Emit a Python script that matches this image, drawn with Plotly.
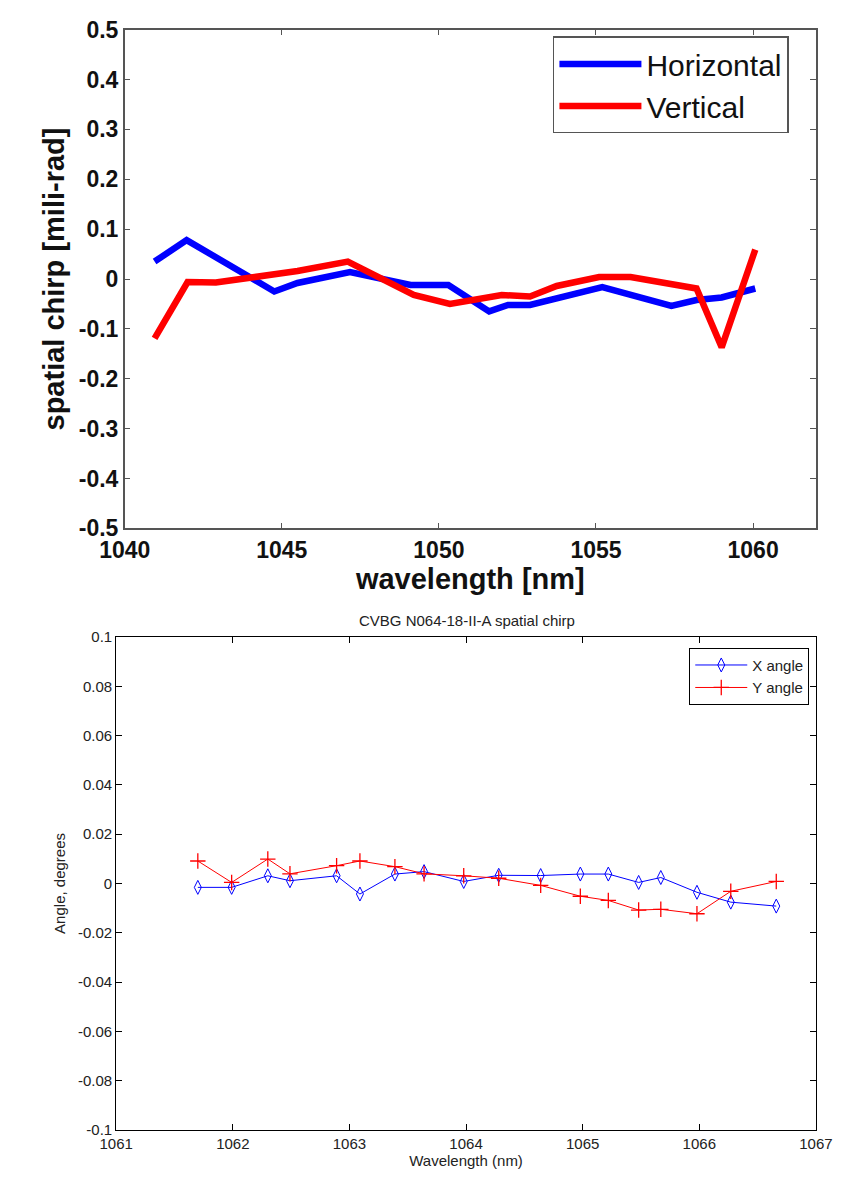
import plotly.graph_objects as go

# ---------------- data: top chart ----------------
h_wavelength = [1040.95, 1041.97, 1044.76, 1045.5, 1047.17, 1049.1, 1050.3, 1051.6,
                1052.2, 1052.9, 1055.2, 1057.4, 1058.2, 1059.0, 1060.07]
h_chirp = [0.035, 0.078, -0.025, -0.008, 0.014, -0.012, -0.012, -0.065,
           -0.052, -0.052, -0.016, -0.054, -0.042, -0.037, -0.019]

v_wavelength = [1040.95, 1042.0, 1042.9, 1045.5, 1047.1, 1049.2, 1050.35, 1052.0,
                1052.9, 1053.75, 1055.1, 1056.1, 1058.2, 1059.0, 1060.07]
v_chirp = [-0.119, -0.006, -0.007, 0.016, 0.035, -0.032, -0.05, -0.032,
           -0.035, -0.014, 0.004, 0.004, -0.019, -0.137, 0.059]

top_xticks = [1040, 1045, 1050, 1055, 1060]
top_yticks = [0.5, 0.4, 0.3, 0.2, 0.1, 0, -0.1, -0.2, -0.3, -0.4, -0.5]
top_yticktext = ["0.5", "0.4", "0.3", "0.2", "0.1", "0", "-0.1", "-0.2", "-0.3", "-0.4", "-0.5"]

# ---------------- data: bottom chart ----------------
b_wavelength = [1061.70, 1061.99, 1062.30, 1062.49, 1062.89, 1063.09, 1063.39, 1063.64, 1063.98,
                1064.28, 1064.64, 1064.98, 1065.22, 1065.48, 1065.67, 1065.98, 1066.27, 1066.66]
x_angle = [-0.0016, -0.0016, 0.0031, 0.0011, 0.0031, -0.0043, 0.0038, 0.0048, 0.0008,
           0.0033, 0.0032, 0.0038, 0.0038, 0.0004, 0.0024, -0.0036, -0.0076, -0.0092]
y_angle = [0.0091, 0.0004, 0.0099, 0.0039, 0.0072, 0.0091, 0.0068, 0.0039, 0.0031,
           0.0021, -0.0008, -0.0052, -0.0069, -0.0108, -0.0105, -0.0123, -0.0032, 0.0008]

bot_xticks = [1061, 1062, 1063, 1064, 1065, 1066, 1067]
bot_yticks = [0.1, 0.08, 0.06, 0.04, 0.02, 0, -0.02, -0.04, -0.06, -0.08, -0.1]
bot_yticktext = ["0.1", "0.08", "0.06", "0.04", "0.02", "0", "-0.02", "-0.04", "-0.06", "-0.08", "-0.1"]

W, H = 850, 1182
FONT = "Arial, Liberation Sans, sans-serif"

def px_x(a, b):
    return [a / W, b / W]

def px_y(top, bottom):
    return [1 - bottom / H, 1 - top / H]

fig = go.Figure()

fig.add_trace(go.Scatter(x=h_wavelength, y=h_chirp, mode="lines", name="Horizontal",
                         line=dict(color="#0000FF", width=6.5), xaxis="x", yaxis="y",
                         legend="legend"))
fig.add_trace(go.Scatter(x=v_wavelength, y=v_chirp, mode="lines", name="Vertical",
                         line=dict(color="#FF0000", width=6.5), xaxis="x", yaxis="y",
                         legend="legend"))

fig.add_trace(go.Scatter(x=b_wavelength, y=x_angle, mode="lines+markers", name="X angle",
                         line=dict(color="#0000FF", width=1),
                         marker=dict(symbol="diamond-tall-open", size=10, color="#0000FF",
                                     line=dict(width=1, color="#0000FF")),
                         xaxis="x2", yaxis="y2", legend="legend2"))
fig.add_trace(go.Scatter(x=b_wavelength, y=y_angle, mode="lines+markers", name="Y angle",
                         line=dict(color="#FF0000", width=1),
                         marker=dict(symbol="cross-thin-open", size=11, color="#FF0000",
                                     line=dict(width=1.3, color="#FF0000")),
                         xaxis="x2", yaxis="y2", legend="legend2"))

top_axis_common = dict(showline=True, linecolor="#555555", linewidth=1.5, mirror="ticks",
                       ticks="inside", ticklen=6, tickcolor="#555555", tickwidth=1.2,
                       showgrid=False, zeroline=False,
                       tickfont=dict(family=FONT, size=23, color="#111111", weight="bold"))
bot_axis_common = dict(showline=True, linecolor="#000000", linewidth=1, mirror="ticks",
                       ticks="inside", ticklen=6, tickcolor="#000000", tickwidth=1,
                       showgrid=False, zeroline=False,
                       tickfont=dict(family=FONT, size=15, color="#222222"))

fig.update_layout(
    width=W, height=H,
    margin=dict(l=0, r=0, t=0, b=0),
    paper_bgcolor="white", plot_bgcolor="white",
    xaxis=dict(domain=px_x(104, 832), range=[1040, 1062], tickvals=top_xticks,
               anchor="y",
               title=dict(text="wavelength [nm]", standoff=4,
                          font=dict(family=FONT, size=29, color="#111111", weight="bold")),
               **top_axis_common),
    yaxis=dict(domain=px_y(17, 527), range=[-0.5, 0.5], tickvals=top_yticks,
               ticktext=top_yticktext, anchor="x",
               title=dict(text="spatial chirp [mili-rad]", standoff=6,
                          font=dict(family=FONT, size=29, color="#111111", weight="bold")),
               **top_axis_common),
    xaxis2=dict(domain=px_x(95, 832), range=[1061, 1067], tickvals=bot_xticks,
                anchor="y2",
                title=dict(text="Wavelength (nm)", standoff=4,
                           font=dict(family=FONT, size=15, color="#222222")),
                **bot_axis_common),
    yaxis2=dict(domain=px_y(638, 1142), range=[-0.1, 0.1], tickvals=bot_yticks,
                ticktext=bot_yticktext, anchor="x2",
                title=dict(text="Angle, degrees", standoff=8,
                           font=dict(family=FONT, size=15, color="#222222")),
                **bot_axis_common),
    legend=dict(x=555 / W, y=1 - 24 / H, xanchor="left", yanchor="top",
                bgcolor="white", bordercolor="#555555", borderwidth=1.5,
                font=dict(family=FONT, size=30, color="#111111"),
                tracegroupgap=0, itemwidth=82),
    legend2=dict(x=825 / W, y=1 - 649 / H, xanchor="right", yanchor="top",
                 bgcolor="white", bordercolor="#000000", borderwidth=1,
                 font=dict(family=FONT, size=15, color="#222222"),
                 tracegroupgap=0, itemwidth=52),
    annotations=[dict(text="CVBG N064-18-II-A spatial chirp", x=465 / W, y=1 - 621 / H,
                      xref="paper", yref="paper", showarrow=False,
                      xanchor="center", yanchor="middle",
                      font=dict(family=FONT, size=15, color="#222222"))],
)

fig.write_html("out.html")
